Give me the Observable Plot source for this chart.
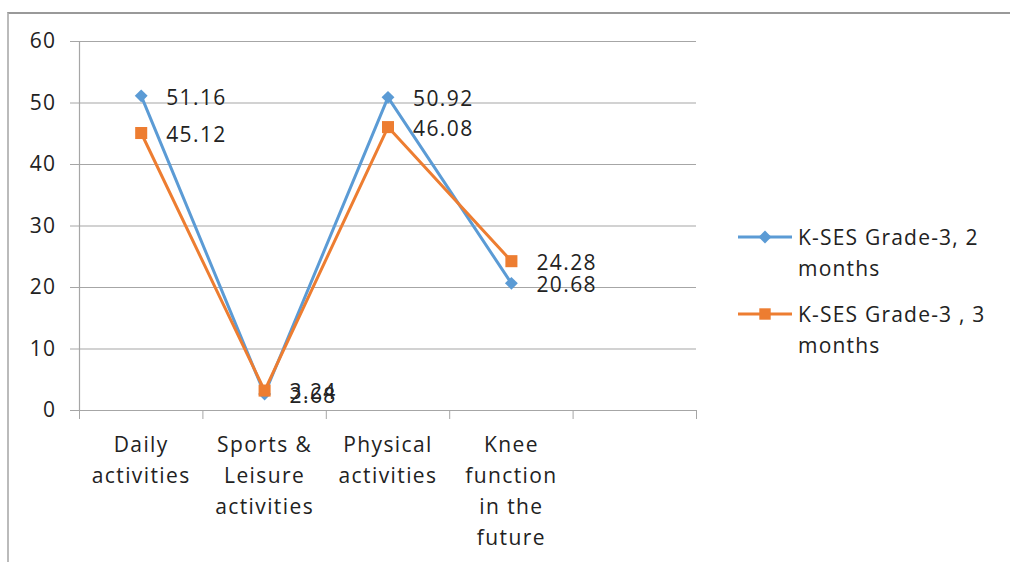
<!DOCTYPE html>
<html><head><meta charset="utf-8">
<script src="https://cdn.jsdelivr.net/npm/d3@7"></script>
<script src="https://cdn.jsdelivr.net/npm/@observablehq/plot@0.6"></script>
<style>
body{margin:0;background:#fff;}
#wrap{position:relative;width:1010px;height:562px;overflow:hidden;font-family:"Open Sans",sans-serif;color:#222;}
#frame{position:absolute;left:7px;top:12px;width:1010px;height:560px;border-top:2px solid #999;border-left:2px solid #bbb;}
#chart{position:absolute;left:0;top:0;}
#chart svg text{letter-spacing:1.4px;}
#legend{position:absolute;left:737px;top:222px;font-size:21px;line-height:31px;letter-spacing:1.2px;}
.row{display:flex;align-items:flex-start;margin-bottom:15px;}
.row svg{margin-top:5px;margin-right:5px;flex:none;}
</style></head><body>
<div id="wrap"><div id="frame"></div><div id="chart"></div><div id="legend"></div></div>
<script>
const categories = ["Daily\nactivities", "Sports &\nLeisure\nactivities", "Physical\nactivities", "Knee\nfunction\nin the\nfuture"];
const seriesNames = ["K-SES Grade-3, 2 months", "K-SES Grade-3 , 3 months"];
const legendLabels = ["K-SES Grade-3, 2\nmonths", "K-SES Grade-3 , 3\nmonths"];
const values2m = [51.16, 2.68, 50.92, 20.68];
const values3m = [45.12, 3.24, 46.08, 24.28];
const yTicks = [0, 10, 20, 30, 40, 50, 60];
const slotCount = 5;
const colors = ["#5B9BD5", "#ED7D31"];

const boundaries = d3.range(slotCount + 1);
const data = [];
[values2m, values3m].forEach((vals, s) => {
  vals.forEach((v, i) => data.push({series: seriesNames[s], cat: categories[i], xi: i + 0.5, value: v}));
});
const data2m = data.filter(d => d.series === seriesNames[0]);
const data3m = data.filter(d => d.series === seriesNames[1]);

const chart = Plot.plot({
  width: 1010,
  height: 562,
  marginLeft: 79,
  marginRight: 314,
  marginTop: 41,
  marginBottom: 152,
  style: {fontFamily: "Open Sans, sans-serif", background: "transparent", color: "#222"},
  x: {domain: [0, slotCount], axis: null},
  y: {domain: [0, 60], axis: null},
  color: {domain: seriesNames, range: colors},
  marks: [
    Plot.ruleY(yTicks, {x1: 0, x2: slotCount, stroke: "#a6a6a6", strokeWidth: 1.2, strokeOpacity: 1}),
    Plot.axisY({ticks: yTicks, tickSize: 9, tickPadding: 14, fontSize: 21, stroke: "#a6a6a6", strokeOpacity: 1, fill: "#222", label: null}),
    Plot.ruleX([0], {y1: 0, y2: 60, stroke: "#a6a6a6", strokeWidth: 1.2}),
    Plot.axisX({ticks: boundaries, tickSize: 9, tickFormat: () => "", stroke: "#a6a6a6", strokeOpacity: 1, label: null}),
    Plot.text(categories, {x: (d, i) => i + 0.5, y: 0, text: d => d, lineAnchor: "top", dy: 19, lineHeight: 1.48, fontSize: 21, fill: "#222"}),
    Plot.line(data, {x: "xi", y: "value", z: "series", stroke: "series", strokeWidth: 3}),
    Plot.dot(data2m, {x: "xi", y: "value", fill: "series", symbol: "diamond2", r: 5.8, stroke: "none"}),
    Plot.dot(data3m, {x: "xi", y: "value", fill: "series", symbol: "square", r: 6.8, stroke: "none"}),
    Plot.text(data, {x: "xi", y: "value", text: d => d.value.toFixed(2), textAnchor: "start", dx: 25, dy: 2, fontSize: 21, fill: "#222"})
  ]
});
document.getElementById("chart").appendChild(chart);

const legend = document.getElementById("legend");
legendLabels.forEach((lab, i) => {
  const row = document.createElement("div");
  row.className = "row";
  const svg = d3.create("svg").attr("width", 56).attr("height", 20);
  svg.append("line").attr("x1", 1).attr("x2", 55).attr("y1", 10).attr("y2", 10).attr("stroke", colors[i]).attr("stroke-width", 3);
  const sym = i === 0 ? d3.symbolDiamond2 : d3.symbolSquare;
  svg.append("path").attr("transform", "translate(28,10)").attr("d", d3.symbol(sym, i === 0 ? 105 : 130)()).attr("fill", colors[i]);
  row.appendChild(svg.node());
  const txt = document.createElement("div");
  txt.innerHTML = lab.replace("\n", "<br>");
  row.appendChild(txt);
  legend.appendChild(row);
});
</script>
</body></html>
